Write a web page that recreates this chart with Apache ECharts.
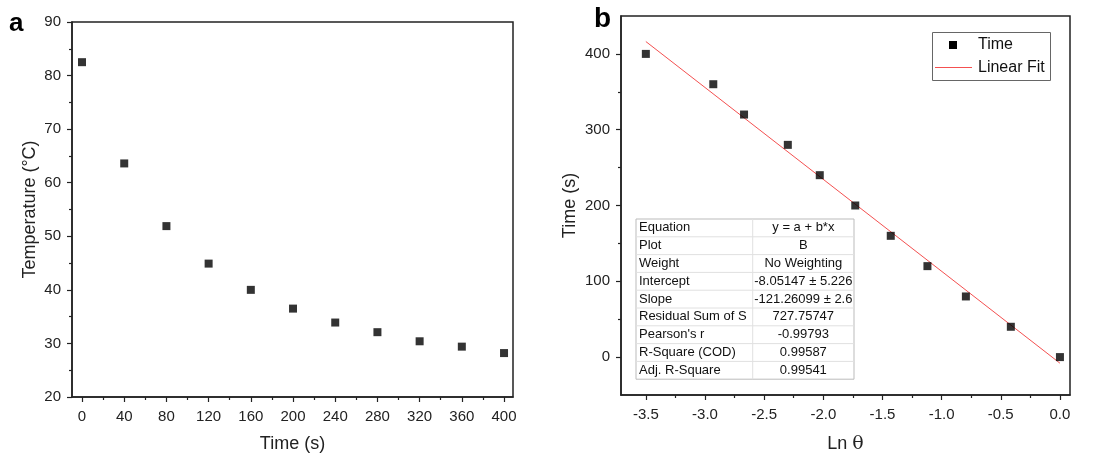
<!DOCTYPE html>
<html>
<head>
<meta charset="utf-8">
<script src="https://cdn.jsdelivr.net/npm/echarts@6/dist/echarts.min.js"></script>
<style>
html,body{margin:0;padding:0;background:#fff;}
#chart{width:1103px;height:459px;}
</style>
</head>
<body>
<div id="chart"></div>
<script>
// ---------- Panel a data ----------
const timeA = [0, 40, 80, 120, 160, 200, 240, 280, 320, 360, 400];
const tempA = [82.5, 63.6, 51.9, 44.9, 40.0, 36.5, 33.9, 32.1, 30.4, 29.4, 28.2];
const xTicksA = [0, 40, 80, 120, 160, 200, 240, 280, 320, 360, 400];
const xMinorA = [20, 60, 100, 140, 180, 220, 260, 300, 340, 380];

// ---------- Panel b data ----------
const lnTheta = [-3.50, -2.93, -2.67, -2.30, -2.03, -1.73, -1.43, -1.12, -0.795, -0.415, 0.0];
const timeB = [400, 360, 320, 280, 240, 200, 160, 120, 80, 40, 0];
const fitX = [-3.5, 0.0];
const fitY = [416.3, -8.05];
const xTicksB = [-3.5, -3.0, -2.5, -2.0, -1.5, -1.0, -0.5, 0.0];
const xMinorB = [-3.25, -2.75, -2.25, -1.75, -1.25, -0.75, -0.25];
const yTicksB = [0, 100, 200, 300, 400];
const yMinorB = [50, 150, 250, 350];

// ---------- Legend & fit table ----------
const legendNames = ['Time', 'Linear Fit'];
const tableNames = ['Equation', 'Plot', 'Weight', 'Intercept', 'Slope', 'Residual Sum of S', "Pearson's r", 'R-Square (COD)', 'Adj. R-Square'];
const tableValues = ['y = a + b*x', 'B', 'No Weighting', '-8.05147 \u00b1 5.226', '-121.26099 \u00b1 2.6', '727.75747', '-0.99793', '0.99587', '0.99541'];

const FONT = "'Liberation Sans', Arial, sans-serif";
const AX = '#222';
const RED = '#f45050';

function pairs(xs, ys) { return xs.map((x, i) => [x, ys[i]]); }

const chart = echarts.init(document.getElementById('chart'), null, {renderer: 'canvas'});

// table graphic
const tbl = {left: 636, top: 219, w: 218, rowH: 17.8, split: 116.7};
const tableChildren = [];
tableChildren.push({type: 'rect', shape: {x: 0, y: 0, width: tbl.w, height: tbl.rowH * tableNames.length},
  style: {fill: '#fff', stroke: '#bbb', lineWidth: 1}});
for (let i = 1; i < tableNames.length; i++) {
  tableChildren.push({type: 'line', shape: {x1: 0, y1: i * tbl.rowH, x2: tbl.w, y2: i * tbl.rowH},
    style: {stroke: '#e0e0e0', lineWidth: 1}});
}
tableChildren.push({type: 'line', shape: {x1: tbl.split, y1: 0, x2: tbl.split, y2: tbl.rowH * tableNames.length},
  style: {stroke: '#e0e0e0', lineWidth: 1}});
tableNames.forEach((n, i) => {
  tableChildren.push({type: 'text', x: 3, y: i * tbl.rowH + tbl.rowH / 2,
    style: {text: n, fill: '#111', font: '13px ' + FONT, verticalAlign: 'middle', align: 'left'}});
  tableChildren.push({type: 'text', x: tbl.split + (tbl.w - tbl.split) / 2, y: i * tbl.rowH + tbl.rowH / 2,
    style: {text: tableValues[i], fill: '#111', font: '13px ' + FONT, verticalAlign: 'middle', align: 'center'}});
});

// legend graphic (box 932..1050 x 32..80)
const legendChildren = [
  {type: 'rect', shape: {x: 0.5, y: 0.5, width: 118, height: 48}, style: {fill: '#fff', stroke: '#666', lineWidth: 1}},
  {type: 'rect', shape: {x: 17, y: 9, width: 8, height: 8}, style: {fill: '#000'}},
  {type: 'line', shape: {x1: 3, y1: 35.5, x2: 40, y2: 35.5}, style: {stroke: RED, lineWidth: 1}},
  {type: 'text', x: 46, y: 13, style: {text: legendNames[0], fill: '#111', font: '16px ' + FONT, verticalAlign: 'middle'}},
  {type: 'text', x: 46, y: 36, style: {text: legendNames[1], fill: '#111', font: '16px ' + FONT, verticalAlign: 'middle'}}
];

const axisLine = {show: true, onZero: false, lineStyle: {color: AX, width: 1.5}};
const noLine = {show: false, onZero: false};
const labelStyle = {color: '#222', fontSize: 15, fontFamily: FONT};
const nameStyle = {color: '#222', fontSize: 18, fontFamily: FONT};
const tickStyle = {color: AX, width: 1.2};

const option = {
  animation: false,
  backgroundColor: '#fff',
  grid: [
    {left: 72, top: 22, width: 441, height: 375, show: true, borderColor: AX, borderWidth: 1.5, backgroundColor: 'transparent'},
    {left: 621, top: 16, width: 449, height: 382, show: true, borderColor: AX, borderWidth: 1.5, backgroundColor: 'transparent'}
  ],
  xAxis: [
    {gridIndex: 0, type: 'value', min: -9.5, max: 408.5, axisLine,
      axisTick: {show: true, inside: false, length: 5, customValues: xTicksA, lineStyle: tickStyle},
      axisLabel: {customValues: xTicksA, margin: 12, ...labelStyle},
      splitLine: {show: false},
      name: 'Time (s)', nameLocation: 'middle', nameGap: 38, nameTextStyle: nameStyle},
    {gridIndex: 0, type: 'value', min: -9.5, max: 408.5, position: 'bottom', axisLine: noLine,
      axisTick: {show: true, length: 3, customValues: xMinorA, lineStyle: tickStyle},
      axisLabel: {show: false}, splitLine: {show: false}},
    {gridIndex: 1, type: 'value', min: -3.71, max: 0.085, axisLine,
      axisTick: {show: true, length: 5, customValues: xTicksB, lineStyle: tickStyle},
      axisLabel: {customValues: xTicksB, margin: 12, formatter: v => v.toFixed(1), ...labelStyle},
      splitLine: {show: false},
      name: '{a|Ln }{b|\u03b8}', nameLocation: 'middle', nameGap: 40,
      nameTextStyle: {...nameStyle, rich: {a: {fontSize: 18, fontFamily: FONT, color: '#222'}, b: {fontSize: 19, fontFamily: "'DejaVu Serif', serif", color: '#222'}}}},
    {gridIndex: 1, type: 'value', min: -3.71, max: 0.085, position: 'bottom', axisLine: noLine,
      axisTick: {show: true, length: 3, customValues: xMinorB, lineStyle: tickStyle},
      axisLabel: {show: false}, splitLine: {show: false}}
  ],
  yAxis: [
    {gridIndex: 0, type: 'value', min: 20, max: 90, interval: 10, axisLine,
      axisTick: {show: true, length: 5, lineStyle: tickStyle},
      minorTick: {show: true, splitNumber: 2, length: 3, lineStyle: tickStyle},
      axisLabel: {margin: 11, ...labelStyle},
      splitLine: {show: false},
      name: 'Temperature (\u00b0C)', nameLocation: 'middle', nameGap: 33, nameTextStyle: nameStyle},
    {gridIndex: 1, type: 'value', min: -50, max: 450, axisLine,
      axisTick: {show: true, length: 5, customValues: yTicksB, lineStyle: tickStyle},
      axisLabel: {customValues: yTicksB, margin: 11, ...labelStyle},
      splitLine: {show: false},
      name: 'Time (s)', nameLocation: 'middle', nameGap: 42, nameTextStyle: nameStyle},
    {gridIndex: 1, type: 'value', min: -50, max: 450, position: 'left', axisLine: noLine,
      axisTick: {show: true, length: 3, customValues: yMinorB, lineStyle: tickStyle},
      axisLabel: {show: false}, splitLine: {show: false}}
  ],
  series: [
    {name: 'Temperature', type: 'scatter', xAxisIndex: 0, yAxisIndex: 0, symbol: 'rect', symbolSize: 8,
      itemStyle: {color: '#000'}, data: pairs(timeA, tempA)},
    {name: legendNames[1], type: 'line', xAxisIndex: 2, yAxisIndex: 1, showSymbol: false, symbol: 'none',
      lineStyle: {color: RED, width: 1}, itemStyle: {color: RED}, data: pairs(fitX, fitY), z: 2},
    {name: legendNames[0], type: 'scatter', xAxisIndex: 2, yAxisIndex: 1, symbol: 'rect', symbolSize: 8,
      itemStyle: {color: '#000'}, data: pairs(lnTheta, timeB), z: 3}
  ],
  graphic: [
    {type: 'text', left: 9, top: 11, style: {text: 'a', fill: '#000', font: 'bold 26px ' + FONT}},
    {type: 'text', left: 594, top: 5, style: {text: 'b', fill: '#000', font: 'bold 28px ' + FONT}},
    {type: 'group', x: tbl.left, y: tbl.top, z: 10, children: tableChildren},
    {type: 'group', x: 932, y: 32, z: 10, children: legendChildren}
  ]
};
chart.setOption(option);
</script>
</body>
</html>
